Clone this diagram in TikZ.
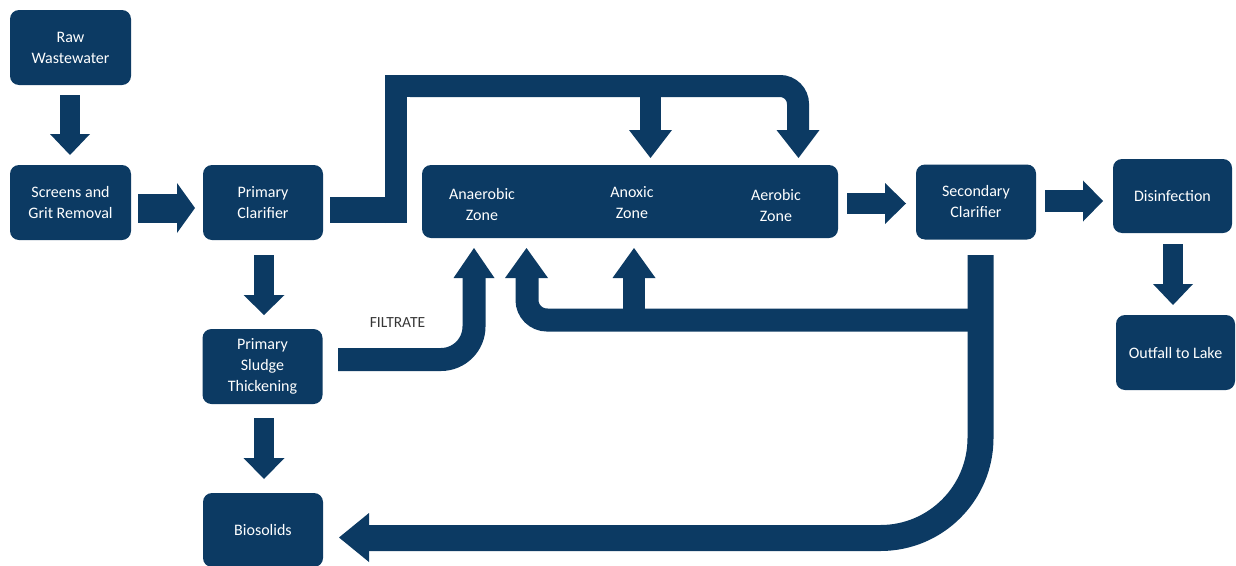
\documentclass[tikz,border=0pt]{standalone}
\usepackage{fontspec}
\setmainfont{Carlito}
\definecolor{navy}{RGB}{12,58,99}
\definecolor{lbl}{RGB}{55,55,55}
\newcommand\varr[6]{% x, shaft start, head base, tip, shaft width, head half width
  \draw[navy, line width=#5] ({#1},{#2}) -- ({#1},{#3});
  \fill[navy] ({#1-#6},{#3}) -- ({#1+#6},{#3}) -- ({#1},{#4}) -- cycle;}
\newcommand\harr[6]{% y, shaft start, head base, tip, shaft width, head half width
  \draw[navy, line width=#5] ({#2},{#1}) -- ({#3},{#1});
  \fill[navy] ({#3},{#1-#6}) -- ({#3},{#1+#6}) -- ({#4},{#1}) -- cycle;}
\begin{document}
\begin{tikzpicture}[x=1pt,y=-1pt,
  box/.style={fill=navy, rounded corners=9pt, text=white, align=center, inner sep=0pt,
    font=\fontsize{16}{21}\selectfont},
  zone/.style={text=white, align=center, inner sep=0pt, font=\fontsize{16}{21}\selectfont},
  pipe/.style={draw=navy, line width=#1}]
\path[use as bounding box] (0,0) rectangle (1236,565);

% boxes
\node[box, minimum width=121pt, minimum height=75pt] (raw) at (70.5,47.5) {Raw\\Wastewater};
\node[box, minimum width=121pt, minimum height=75pt] (screens) at (70.5,202.5) {Screens and\\Grit Removal};
\node[box, minimum width=120pt, minimum height=75pt] (pclar) at (263,202.5) {Primary\\Clarifier};
\node[box, minimum width=120pt, minimum height=75pt] (psludge) at (262.5,366.5) {Primary\\Sludge\\Thickening};
\node[box, minimum width=120pt, minimum height=74pt] (bio) at (263,530) {Biosolids};
\node[box, minimum width=416pt, minimum height=73pt] (zones) at (630,201.5) {};
\node[zone] (anae) at (482,204) {Anaerobic\\Zone};
\node[zone] (anox) at (632,203) {Anoxic\\Zone};
\node[zone] (aero) at (776,205) {Aerobic\\Zone};
\node[box, minimum width=120pt, minimum height=75pt] (sclar) at (976,202) {Secondary\\Clarifier};
\node[box, minimum width=119pt, minimum height=74pt] (dis) at (1172.5,196) {Disinfection};
\node[box, minimum width=119pt, minimum height=75pt] (outfall) at (1175.5,352.5) {Outfall to Lake};
\node[text=lbl, inner sep=0pt, font=\fontsize{15.5}{17}\selectfont] (filt) at (397.5,323) {FILTRATE};

% straight arrows
\varr{70}{95}{134}{155}{20pt}{20}
\harr{208}{138}{177}{195}{29pt}{25}
\varr{264}{255}{295}{315}{20pt}{20.5}
\varr{264}{418}{458}{479}{20pt}{20.5}
\harr{203.5}{847}{885}{906}{21pt}{20.5}
\harr{201}{1045}{1083}{1103}{22pt}{20.5}
\varr{1173}{244}{284}{305}{20pt}{20}

% primary clarifier to anoxic / aerobic (step feed)
\draw[pipe=26pt] (330,210) -- (406,210);
\draw[pipe=22pt, line join=miter] (395.5,223) -- (395.5,86) -- (420,86);
\draw[pipe=22pt, rounded corners=18pt] (410,86) -- (798,86) -- (798,130.5);
\fill[navy] (776.5,130) -- (819.5,130) -- (798.5,158) -- cycle;
\draw[pipe=21pt] (650.5,86) -- (650.5,130.5);
\fill[navy] (629,130) -- (672,130) -- (650.5,158) -- cycle;

% filtrate
\draw[pipe=23pt, rounded corners=33pt] (338,359.5) -- (474,359.5) -- (474,277.5);
\fill[navy] (453.5,278) -- (494.5,278) -- (474,248) -- cycle;

% return activated sludge
\draw[pipe=23pt, rounded corners=20pt] (981,320) -- (527,320) -- (527,277.5);
\fill[navy] (505,278) -- (548,278) -- (526.5,248) -- cycle;
\draw[pipe=22pt] (634,322) -- (634,277.5);
\fill[navy] (612.5,278) -- (655.5,278) -- (634,248) -- cycle;

% waste sludge to biosolids
\draw[pipe=26pt, rounded corners=100pt] (980.5,255) -- (980.5,538) -- (368.5,538);
\fill[navy] (369,513) -- (369,562) -- (339,537.5) -- cycle;
\end{tikzpicture}
\end{document}
